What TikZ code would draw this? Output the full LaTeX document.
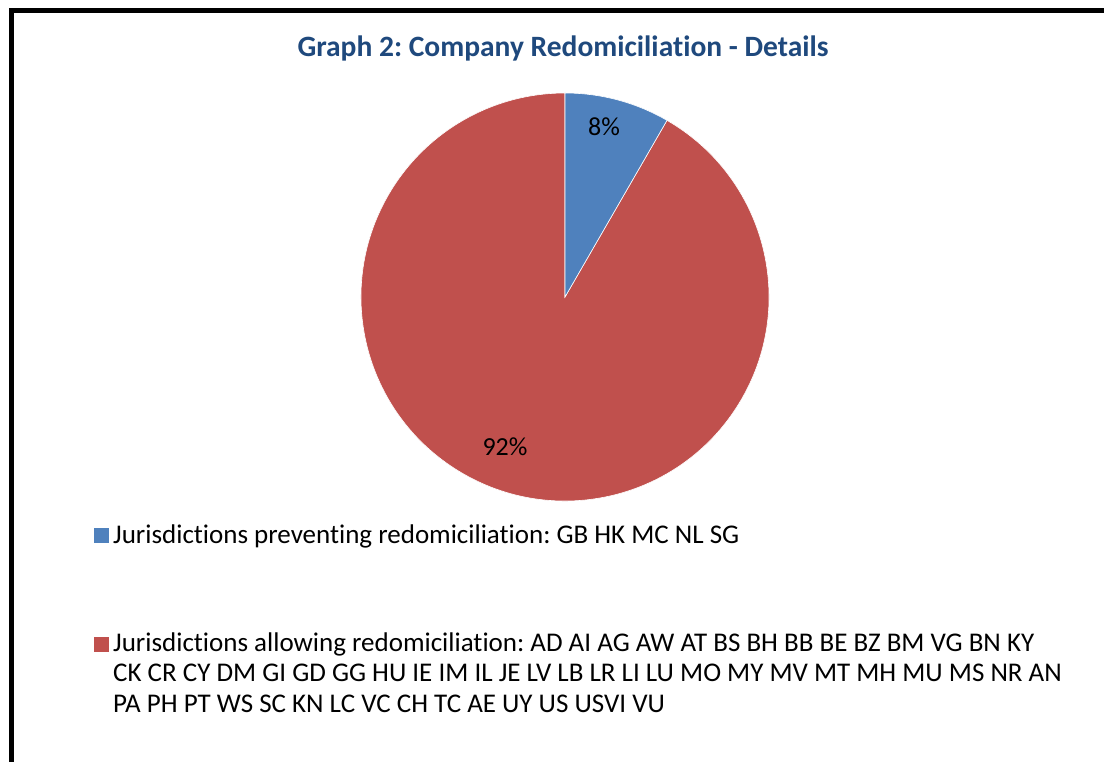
\documentclass[tikz,border=0pt]{standalone}
\usepackage{fontspec}
\setmainfont{Carlito}[Ligatures=NoCommon]
\usepackage{xcolor}
\definecolor{sliceblue}{HTML}{4F81BD}
\definecolor{slicered}{HTML}{C0504D}
\definecolor{titleblue}{HTML}{1F497D}
\frenchspacing

\tikzset{
  legtext/.style={anchor=base west,inner sep=0pt,font=\fontsize{27}{31}\selectfont},
  legkey/.style={inner sep=0pt,minimum size=15pt},
  pctlabel/.style={inner sep=0pt,font=\fontsize{26}{30}\selectfont}
}

\begin{document}
\begin{tikzpicture}[x=1pt,y=-1pt]
  \useasboundingbox (0,0) rectangle (1104,762);
  \fill[white] (0,0) rectangle (1104,762);
  % frame
  \draw[line width=5pt] (1104,10.8) -- (11.5,10.8) -- (11.5,762);

  % title
  \node[anchor=base,inner sep=0pt,text=titleblue,font=\fontsize{29.5}{33}\selectfont\bfseries]
    (title) at (563,57) {Graph 2: Company Redomiciliation - Details};

  % pie
  \begin{scope}[shift={(565,297)},y=1pt]
    \fill[slicered,draw=white,line width=0.6pt] (0,0) -- (60:204) arc[start angle=60,end angle=-270,radius=204] -- cycle;
    \fill[sliceblue,draw=white,line width=0.6pt] (0,0) -- (90:204) arc[start angle=90,end angle=60,radius=204] -- cycle;
  \end{scope}
  \node[pctlabel] (pctprev) at (604,127) {8\%};
  \node[pctlabel] (pctallow) at (505,447) {92\%};

  % legend
  \node[legkey,fill=sliceblue,anchor=south west] (keyprev) at (94,543) {};
  \node[legtext] (legprev) at (113,543) {Jurisdictions preventing redomiciliation: GB HK MC NL SG};

  \node[legkey,fill=slicered,anchor=south west] (keyallow) at (94,652) {};
  \node[legtext] (legallowA) at (113,651) {Jurisdictions allowing redomiciliation: AD AI AG AW AT BS BH BB BE BZ BM VG BN KY};
  \node[legtext] (legallowB) at (113,681) {CK CR CY DM GI GD GG HU IE IM IL JE LV LB LR LI LU MO MY MV MT MH MU MS NR AN};
  \node[legtext] (legallowC) at (113,712) {PA PH PT WS SC KN LC VC CH TC AE UY US USVI VU};
\end{tikzpicture}
\end{document}
